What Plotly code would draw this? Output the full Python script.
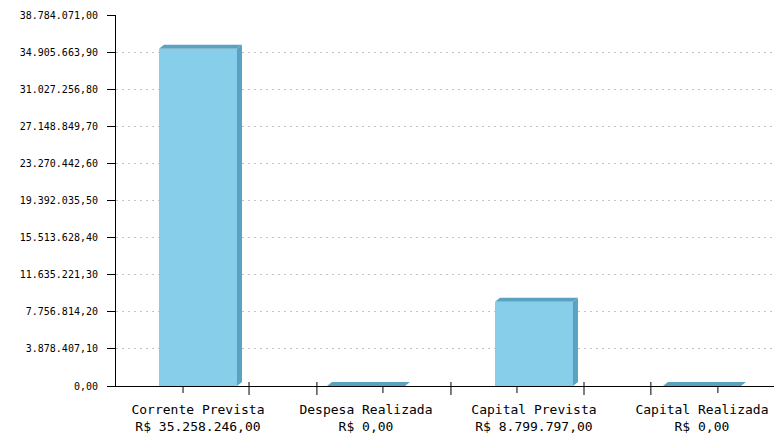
import plotly.graph_objects as go

# dados do gráfico
categorias = ["Corrente Prevista", "Despesa Realizada", "Capital Prevista", "Capital Realizada"]
valores = [35258246.00, 0.00, 8799797.00, 0.00]
rotulos_valor = ["R$ 35.258.246,00", "R$ 0,00", "R$ 8.799.797,00", "R$ 0,00"]

y_max = 38784071.00
y_ticks = [0.00, 3878407.10, 7756814.20, 11635221.30, 15513628.40, 19392035.50,
           23270442.60, 27148849.70, 31027256.80, 34905663.90, 38784071.00]
y_tick_text = ["0,00", "3.878.407,10", "7.756.814,20", "11.635.221,30", "15.513.628,40",
               "19.392.035,50", "23.270.442,60", "27.148.849,70", "31.027.256,80",
               "34.905.663,90", "38.784.071,00"]

# marcas do eixo x (posições em unidades de categoria)
ticks_menores = [-0.089, 1.101, 1.899, 3.095]
ticks_maiores = [0.304, 0.708, 1.506, 2.298, 2.696]

COR_FRENTE = "#87CEEB"
COR_LADO = "#5AA2C1"
LARGURA = 0.464
DX = 0.030            # profundidade 3D em x
DY = y_max * 4 / 371  # profundidade 3D em y

xs = list(range(len(categorias)))

fig = go.Figure()

# faces frontais
fig.add_trace(go.Bar(
    x=xs, y=valores, width=LARGURA,
    marker=dict(color=COR_FRENTE, line=dict(width=0)),
    hoverinfo="skip", showlegend=False,
))

# topo e lateral (efeito 3D)
for x, v in zip(xs, valores):
    esq, dir_ = x - LARGURA / 2, x + LARGURA / 2
    fig.add_trace(go.Scatter(
        x=[esq, esq + DX, dir_ + DX, dir_, esq],
        y=[v, v + DY, v + DY, v, v],
        fill="toself", fillcolor=COR_LADO, mode="none",
        hoverinfo="skip", showlegend=False,
    ))
    if v > 0:
        fig.add_trace(go.Scatter(
            x=[dir_, dir_ + DX, dir_ + DX, dir_, dir_],
            y=[v, v + DY, DY, 0, v],
            fill="toself", fillcolor=COR_LADO, mode="none",
            hoverinfo="skip", showlegend=False,
        ))

# marcas do eixo x
for t in ticks_menores:
    fig.add_shape(type="line", xref="x", yref="paper", ysizemode="pixel", yanchor=0,
                  x0=t, x1=t, y0=0, y1=-7, line=dict(color="black", width=1))
for t in ticks_maiores:
    fig.add_shape(type="line", xref="x", yref="paper", ysizemode="pixel", yanchor=0,
                  x0=t, x1=t, y0=4, y1=-9, line=dict(color="black", width=1))

fig.update_layout(
    width=774, height=441,
    margin=dict(l=116, r=0, t=15, b=55, autoexpand=False),
    plot_bgcolor="white", paper_bgcolor="white",
    bargap=0,
    font=dict(family="DejaVu Sans Mono", size=12, color="black"),
    xaxis=dict(
        range=[-0.488, 3.429],
        tickvals=xs,
        ticktext=[f"{c}<br>{r}" for c, r in zip(categorias, rotulos_valor)],
        ticks="", showgrid=False, zeroline=False,
        showline=True, linecolor="black", linewidth=1,
        tickfont=dict(family="DejaVu Sans Mono", size=13),
        ticklabelstandoff=11, automargin=False,
    ),
    yaxis=dict(
        range=[0, y_max],
        tickvals=y_ticks, ticktext=y_tick_text,
        ticks="outside", ticklen=8, tickcolor="black",
        showline=True, linecolor="black", linewidth=1,
        showgrid=True, gridcolor="#c4c4c4", griddash="2px,4px", gridwidth=1,
        zeroline=False, automargin=False,
        tickfont=dict(family="DejaVu Sans Mono", size=10),
        ticklabelstandoff=7,
    ),
)

fig.write_html("out.html", config={"displayModeBar": False},
               post_script="document.body.style.margin='0';")
